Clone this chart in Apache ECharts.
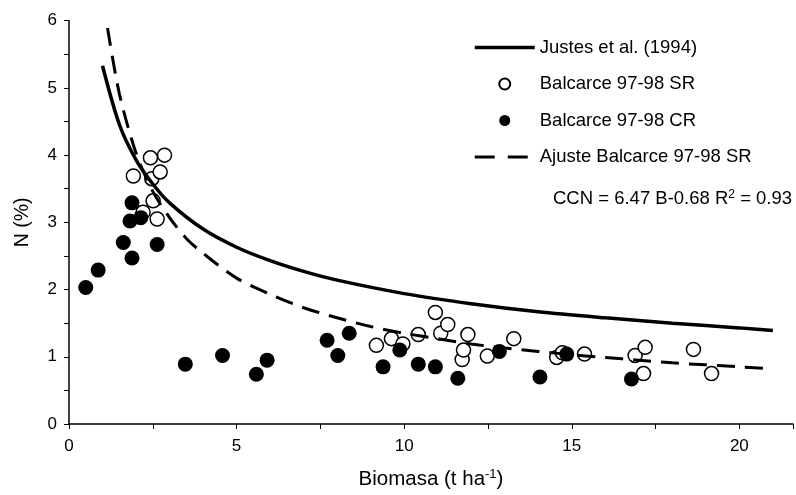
<!DOCTYPE html>
<html>
<head>
<meta charset="utf-8">
<script src="https://cdn.jsdelivr.net/npm/echarts@6/dist/echarts.min.js"></script>
<style>html,body{margin:0;padding:0;background:#fff;}#chart{width:796px;height:495px;}</style>
</head>
<body>
<div id="chart"></div>
<script>
// Balcarce 97-98 SR (open circles)
const srX = [1.92, 2.21, 2.43, 2.47, 2.51, 2.63, 2.72, 2.85, 9.17, 9.62, 9.96, 10.42, 10.93, 11.09, 11.30, 11.73, 11.77, 11.90, 12.48, 13.27, 14.55, 14.72, 15.38, 16.89, 17.14, 17.19, 18.63, 19.17];
const srY = [3.69, 3.15, 3.96, 3.65, 3.32, 3.05, 3.75, 4.00, 1.17, 1.27, 1.19, 1.33, 1.66, 1.35, 1.48, 0.96, 1.10, 1.33, 1.01, 1.27, 0.99, 1.06, 1.04, 1.02, 0.75, 1.14, 1.11, 0.75];
// Balcarce 97-98 CR (filled circles)
const crX = [0.50, 0.87, 1.62, 1.82, 1.88, 1.88, 2.14, 2.63, 3.47, 4.58, 5.59, 5.91, 7.70, 8.02, 8.36, 9.37, 9.87, 10.42, 10.93, 11.60, 12.84, 14.05, 14.85, 16.78];
const crY = [2.03, 2.29, 2.70, 3.02, 2.47, 3.29, 3.07, 2.67, 0.89, 1.02, 0.74, 0.95, 1.245, 1.02, 1.35, 0.85, 1.10, 0.89, 0.85, 0.68, 1.08, 0.70, 1.04, 0.67];
// Justes et al. (1994) curve
const justesX = [1.0, 1.5, 2.0, 2.5, 3.0, 4.0, 5.0, 6.0, 7.0, 8.0, 10.0, 12.0, 14.0, 16.0, 18.0, 20.0, 21.0];
const justesY = [5.33, 4.46, 3.93, 3.57, 3.29, 2.90, 2.63, 2.43, 2.27, 2.14, 1.94, 1.79, 1.67, 1.58, 1.50, 1.43, 1.39];
// Ajuste Balcarce 97-98 SR curve
const ajusteX = [1.15, 1.5, 2.0, 2.5, 3.0, 3.5, 4.0, 5.0, 6.0, 7.0, 8.0, 9.0, 10.0, 11.0, 12.0, 13.0, 14.0, 15.0, 16.0, 17.0, 18.0, 19.0, 20.0, 21.0];
const ajusteY = [5.89, 4.92, 4.03, 3.46, 3.07, 2.76, 2.54, 2.17, 1.93, 1.73, 1.58, 1.45, 1.35, 1.27, 1.19, 1.13, 1.08, 1.03, 0.99, 0.95, 0.91, 0.88, 0.85, 0.82];

const xTicks = [0, 5, 10, 15, 20];
const yTicks = [0, 1, 2, 3, 4, 5, 6];

const zip = (a, b) => a.map((v, i) => [v, b[i]]);
const FONT = 'Liberation Sans, Arial, sans-serif';

const chart = echarts.init(document.getElementById('chart'), null, {renderer: 'canvas'});
chart.setOption({
  animation: false,
  backgroundColor: '#fff',
  textStyle: {fontFamily: FONT, color: '#000'},
  grid: {left: 69, right: 0, top: 20.7, bottom: 68.5, containLabel: false},
  xAxis: {
    type: 'value', min: 0, max: 21.6, interval: 2.5,
    name: 'Biomasa (t ha{s|-1})', nameLocation: 'middle', nameGap: 44,
    nameTextStyle: {fontFamily: FONT, fontSize: 20.5, color: '#000',
      rich: {s: {fontFamily: FONT, fontSize: 13, color: '#000', padding: [0, 0, 10, 0]}}},
    axisLine: {show: true, onZero: false, lineStyle: {color: '#000', width: 1.5}},
    axisTick: {show: true, inside: false, length: 5, lineStyle: {color: '#000', width: 1}},
    axisLabel: {fontFamily: FONT, fontSize: 17, color: '#000', margin: 14,
      formatter: v => (xTicks.indexOf(v) >= 0 ? String(v) : '')},
    splitLine: {show: false}
  },
  yAxis: {
    type: 'value', min: 0, max: 6, interval: 0.5,
    name: 'N (%)', nameLocation: 'middle', nameGap: 36,
    nameTextStyle: {fontFamily: FONT, fontSize: 19.5, color: '#000'},
    axisLine: {show: true, onZero: false, lineStyle: {color: '#000', width: 1.5}},
    axisTick: {show: true, inside: false, length: 5, lineStyle: {color: '#000', width: 1}},
    axisLabel: {fontFamily: FONT, fontSize: 17, color: '#000', margin: 12,
      formatter: v => (yTicks.indexOf(v) >= 0 ? String(v) : '')},
    splitLine: {show: false}
  },
  legend: {
    orient: 'vertical', left: 473, top: 38, padding: 0, itemGap: 17.5,
    itemWidth: 60, itemHeight: 11,
    data: [
      {name: 'Justes et al. (1994)', itemStyle: {opacity: 0}, lineStyle: {width: 3.5, color: '#000'}},
      {name: 'Balcarce 97-98 SR'},
      {name: 'Balcarce 97-98 CR'},
      {name: 'Ajuste Balcarce 97-98 SR', itemStyle: {opacity: 0}, lineStyle: {width: 3, color: '#000', type: [20, 13]}}
    ],
    textStyle: {fontFamily: FONT, fontSize: 18.5, color: '#000'}
  },
  graphic: [{
    type: 'text', left: 553, top: 189,
    style: {
      text: 'CCN = 6.47 B-0.68 R{s|2} = 0.93',
      font: '18.5px ' + FONT, fill: '#000',
      rich: {s: {fontFamily: FONT, fontSize: 12, fill: '#000', padding: [0, 0, 8, 0]}}
    }
  }],
  series: [
    {name: 'Balcarce 97-98 SR', type: 'scatter', data: zip(srX, srY), symbol: 'circle', symbolSize: 14,
      itemStyle: {color: '#fff', borderColor: '#000', borderWidth: 1.5, opacity: 1}, z: 2},
    {name: 'Balcarce 97-98 CR', type: 'scatter', data: zip(crX, crY), symbol: 'circle', symbolSize: 15,
      itemStyle: {color: '#000', borderColor: '#000', borderWidth: 0, opacity: 1}, z: 3},
    {name: 'Justes et al. (1994)', type: 'line', data: zip(justesX, justesY), showSymbol: false, symbol: 'none',
      smooth: 0.3, lineStyle: {color: '#000', width: 3.5}, itemStyle: {color: '#000'}, z: 4},
    {name: 'Ajuste Balcarce 97-98 SR', type: 'line', data: zip(ajusteX, ajusteY), showSymbol: false, symbol: 'none',
      smooth: 0.3, lineStyle: {color: '#000', width: 3, type: [18, 10]}, itemStyle: {color: '#000'}, z: 4}
  ]
});
</script>
</body>
</html>
